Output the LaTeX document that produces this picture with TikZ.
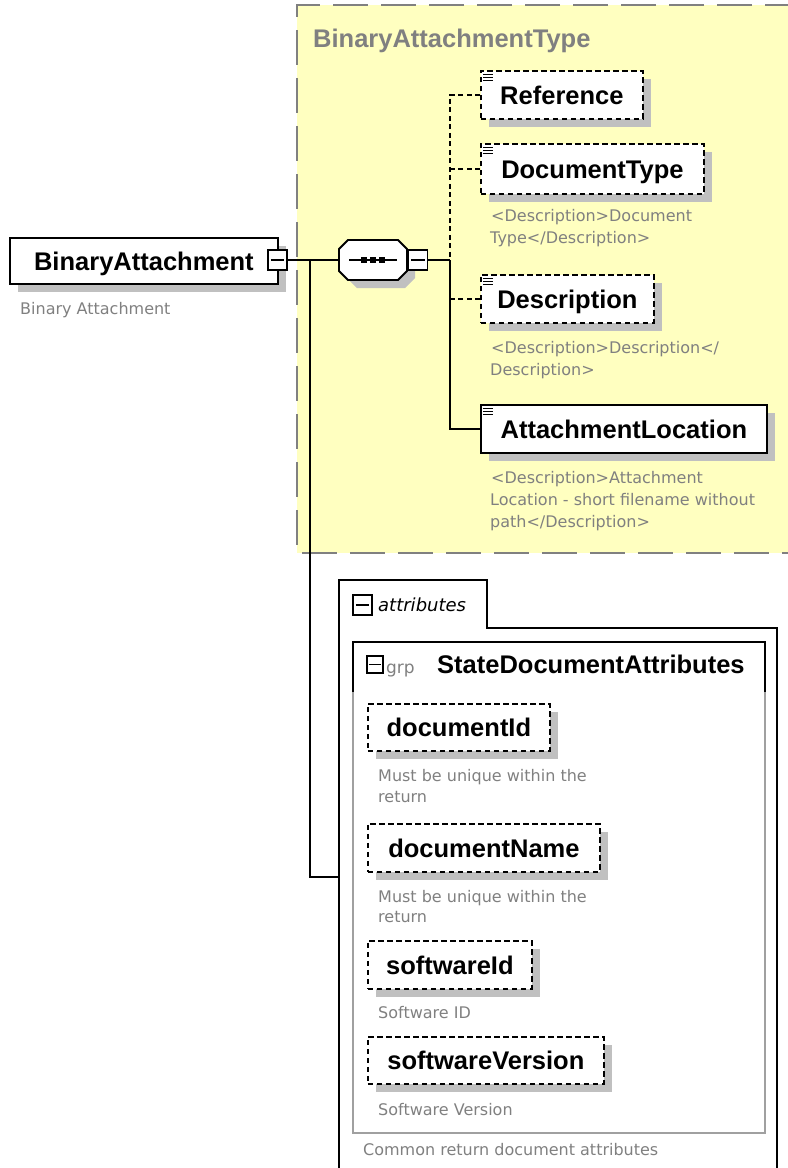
\documentclass[tikz,border=0pt]{standalone}
\usepackage{fontspec}
\setmainfont{Liberation Sans}
\newfontfamily\descfamily{DejaVu Sans}
\usetikzlibrary{shadows}
\definecolor{yel}{RGB}{255,255,192}
\definecolor{txtgray}{RGB}{128,128,128}
\definecolor{shgray}{RGB}{192,192,192}
\definecolor{boxgray}{RGB}{160,160,160}
\newcommand\namefont{\fontsize{25.5bp}{28bp}\selectfont\bfseries}
\newcommand\descfont{\descfamily\fontsize{16bp}{20bp}\selectfont}
\newcommand\listicon[1]{\foreach \dd in {4.5,7.5,10.5} {\draw[line width=1bp] ([xshift=3bp,yshift=-\dd bp]#1.north west) -- ++(10,0);}}
\newcommand\minusin[1]{\draw[line width=1.3bp] ([xshift=3.5bp]#1.west) -- ([xshift=-3.5bp]#1.east);}
\tikzset{
  elem/.style={draw=black, line width=1.8bp, fill=white, inner sep=0pt, anchor=north west,
    font=\namefont, text height=18.3bp, text depth=0pt,
    general shadow={fill=shgray, shadow xshift=8bp, shadow yshift=-8bp}},
  optelem/.style={elem, dash pattern=on 5.5bp off 3.5bp},
  desc/.style={font=\descfont, text=txtgray, anchor=base west, inner sep=0pt},
  btn/.style={draw=black, line width=1.5bp, fill=white, inner sep=0pt, minimum width=19bp, minimum height=20bp},
  conn/.style={line width=1.8bp},
  optconn/.style={line width=1.8bp, dash pattern=on 5bp off 3.5bp},
}
\begin{document}
\begin{tikzpicture}[x=1bp,y=-1bp]
\useasboundingbox (0,0) rectangle (788,1168);
% yellow complex type area
\fill[yel] (297,5) rectangle (800,553);
\draw[txtgray, line width=2bp, dash pattern=on 35bp off 13bp] (800,5) -- (297,5) -- (297,553) -- (800,553);
\node[font=\namefont, text=txtgray, anchor=base west, inner sep=0pt] (title) at (313,47) {BinaryAttachmentType};

% root element
\node[elem, minimum width=268bp, minimum height=46bp] (ba) at (9,237) {BinaryAttachment};
\node[btn] (babtn) at (277.5,260) {};
\minusin{babtn}
\node[desc] (badesc) at (20,314) {Binary Attachment};

% sequence compositor
\node[draw=none, minimum width=68bp, minimum height=40bp, inner sep=0pt] (seq) at (373,260) {};
\fill[shgray] (357,248) -- (405,248) -- (415,258) -- (415,278) -- (405,288) -- (357,288) -- (347,278) -- (347,258) -- cycle;
\draw[line width=1.8bp, fill=white] (348,240) -- (398,240) -- (407,249) -- (407,271) -- (398,280) -- (348,280) -- (339,271) -- (339,249) -- cycle;
\draw[line width=1.5bp] (349,260) -- (397,260);
\foreach \xx in {364,373,382} {\fill (\xx-3,257) rectangle (\xx+3,263);}
\node[btn] (seqbtn) at (418,260) {};
\minusin{seqbtn}

% connectors
\coordinate (j1) at (310,260);
\coordinate (j2) at (450,260);
\coordinate (attrin) at (339,877);
\draw[conn] (babtn.east) -- (seq.west);
\draw[conn] (j1) |- (attrin);
\draw[conn] (seqbtn.east) -- (j2);

% child elements
\node[optelem, minimum width=162bp, minimum height=48bp] (ref) at (480,70) {Reference};
\node[optelem, minimum width=223bp, minimum height=50bp] (doct) at (480,143) {DocumentType};
\node[optelem, minimum width=173bp, minimum height=48bp] (descr) at (480,274) {Description};
\node[elem, minimum width=286bp, minimum height=48bp] (attloc) at (480,404) {AttachmentLocation};
\listicon{ref}
\listicon{doct}
\listicon{descr}
\listicon{attloc}

\draw[optconn] (ref.west) -| (j2);
\draw[optconn] (doct.west) -- (doct.west -| j2);
\draw[optconn] (descr.west) -- (descr.west -| j2);
\draw[conn] (j2) |- (attloc.west);

\node[desc] (dtd1) at (491,221) {<Description>Document};
\node[desc] (dtd2) at (490,243) {Type</Description>};
\node[desc] (dsd1) at (491,353) {<Description>Description</};
\node[desc] (dsd2) at (490,375) {Description>};
\node[desc] (ald1) at (491,483) {<Description>Attachment};
\node[desc] (ald2) at (490,505) {Location - short filename without};
\node[desc] (ald3) at (490,527) {path</Description>};

% attributes
\draw[conn] (339,1180) -- (339,580) -- (487,580) -- (487,628) -- (777,628) -- (777,1180);
\node[btn] (attrbtn) at (362.5,605) {};
\minusin{attrbtn}
\node[font=\descfamily\fontsize{18bp}{20bp}\selectfont\itshape, anchor=base west, inner sep=0pt] (attrlbl) at (378,611) {attributes};

% group
\draw[boxgray, line width=1.8bp] (353,692) -- (353,1133) -- (765,1133) -- (765,692);
\draw[line width=1.8bp] (353,692) -- (353,642) -- (765,642) -- (765,692);
\node[btn, minimum width=16bp, minimum height=17bp, line width=1.3bp] (grpbtn) at (375,664.5) {};
\draw[line width=1.1bp] ([xshift=2.5bp]grpbtn.west) -- ([xshift=-2.5bp]grpbtn.east);
\node[font=\descfamily\fontsize{17bp}{20bp}\selectfont, text=txtgray, anchor=base west, inner sep=0pt] (grplbl) at (386,673) {grp};
\node[font=\namefont, anchor=base west, inner sep=0pt] (grpname) at (437,673) {StateDocumentAttributes};

\node[optelem, minimum width=182bp, minimum height=47bp] (did) at (367,703) {documentId};
\node[desc] (didd1) at (378,781) {Must be unique within the};
\node[desc] (didd2) at (378,802) {return};
\node[optelem, minimum width=232bp, minimum height=48bp] (dname) at (367,823) {documentName};
\node[desc] (dnd1) at (378,902) {Must be unique within the};
\node[desc] (dnd2) at (378,922) {return};
\node[optelem, minimum width=164bp, minimum height=48bp] (swid) at (367,940) {softwareId};
\node[desc] (swidd) at (378,1018) {Software ID};
\node[optelem, minimum width=236bp, minimum height=47bp] (swver) at (367,1036) {softwareVersion};
\node[desc] (swvd) at (378,1115) {Software Version};
\node[desc] (grpdesc) at (363,1155) {Common return document attributes};
\end{tikzpicture}
\end{document}
